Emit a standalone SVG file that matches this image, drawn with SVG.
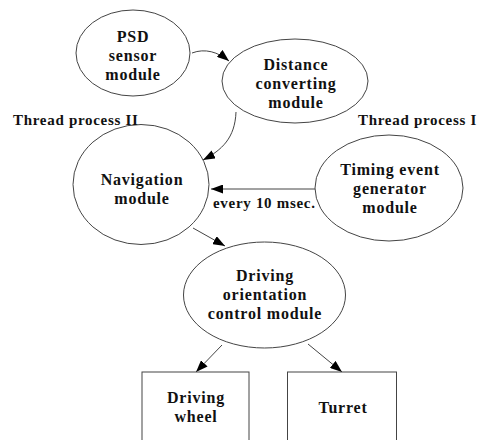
<svg xmlns="http://www.w3.org/2000/svg" width="481" height="440" viewBox="0 0 481 440">
<style>
.n{fill:#fff;stroke:#444;stroke-width:1}
.t{font-family:"Liberation Serif","Times New Roman",serif;font-weight:bold;font-size:16px;letter-spacing:0.8px;fill:#111;text-anchor:middle}
.l{font-family:"Liberation Serif","Times New Roman",serif;font-weight:bold;font-size:15px;letter-spacing:0.7px;fill:#111}
.e{fill:none;stroke:#444;stroke-width:1}
</style>
<defs>
<marker id="ah" markerUnits="userSpaceOnUse" markerWidth="13" markerHeight="9" refX="12" refY="4.5" orient="auto">
<path d="M0,0 L12,4.5 L0,9 z" fill="#000"/>
</marker>
</defs>
<rect width="481" height="440" fill="#fff"/>
<g id="connectors">
<path class="e" d="M192,53 C205,48 218,52 229,61" marker-end="url(#ah)"/>
<path class="e" d="M236,112 C235,138 222,150 203,160" marker-end="url(#ah)"/>
<path class="e" d="M315,189 L211,189" marker-end="url(#ah)"/>
<path class="e" d="M193,228 L225,246" marker-end="url(#ah)"/>
<path class="e" d="M222,345 L196,372" marker-end="url(#ah)"/>
<path class="e" d="M308,344 L342,372" marker-end="url(#ah)"/>
</g>
<g id="psd">
<ellipse class="n" cx="133" cy="53" rx="57" ry="43"/>
<text class="t" x="133" y="42">PSD</text>
<text class="t" x="133" y="61">sensor</text>
<text class="t" x="133" y="80">module</text>
</g>
<g id="distance">
<ellipse class="n" cx="295" cy="81" rx="73" ry="42"/>
<text class="t" x="296" y="70">Distance</text>
<text class="t" x="296" y="89">converting</text>
<text class="t" x="296" y="108">module</text>
</g>
<g id="navigation">
<ellipse class="n" cx="141" cy="184.5" rx="68" ry="60"/>
<text class="t" x="142" y="185">Navigation</text>
<text class="t" x="142" y="204">module</text>
</g>
<g id="timing">
<ellipse class="n" cx="389" cy="188" rx="74" ry="53"/>
<text class="t" x="390" y="175">Timing event</text>
<text class="t" x="390" y="194">generator</text>
<text class="t" x="390" y="213">module</text>
</g>
<g id="driving">
<ellipse class="n" cx="264.5" cy="295" rx="81" ry="53"/>
<text class="t" x="265" y="281">Driving</text>
<text class="t" x="265" y="300">orientation</text>
<text class="t" x="265" y="319">control module</text>
</g>
<g id="wheel">
<rect class="n" x="142" y="372" width="107" height="75"/>
<text class="t" x="196" y="403">Driving</text>
<text class="t" x="196" y="422">wheel</text>
</g>
<g id="turret">
<rect class="n" x="287.5" y="372" width="109" height="75"/>
<text class="t" x="343" y="413">Turret</text>
</g>
<g id="labels">
<text class="l" x="13" y="125">Thread process II</text>
<text class="l" x="358" y="125">Thread process I</text>
<text class="l" x="213" y="208">every 10 msec.</text>
</g>
</svg>
